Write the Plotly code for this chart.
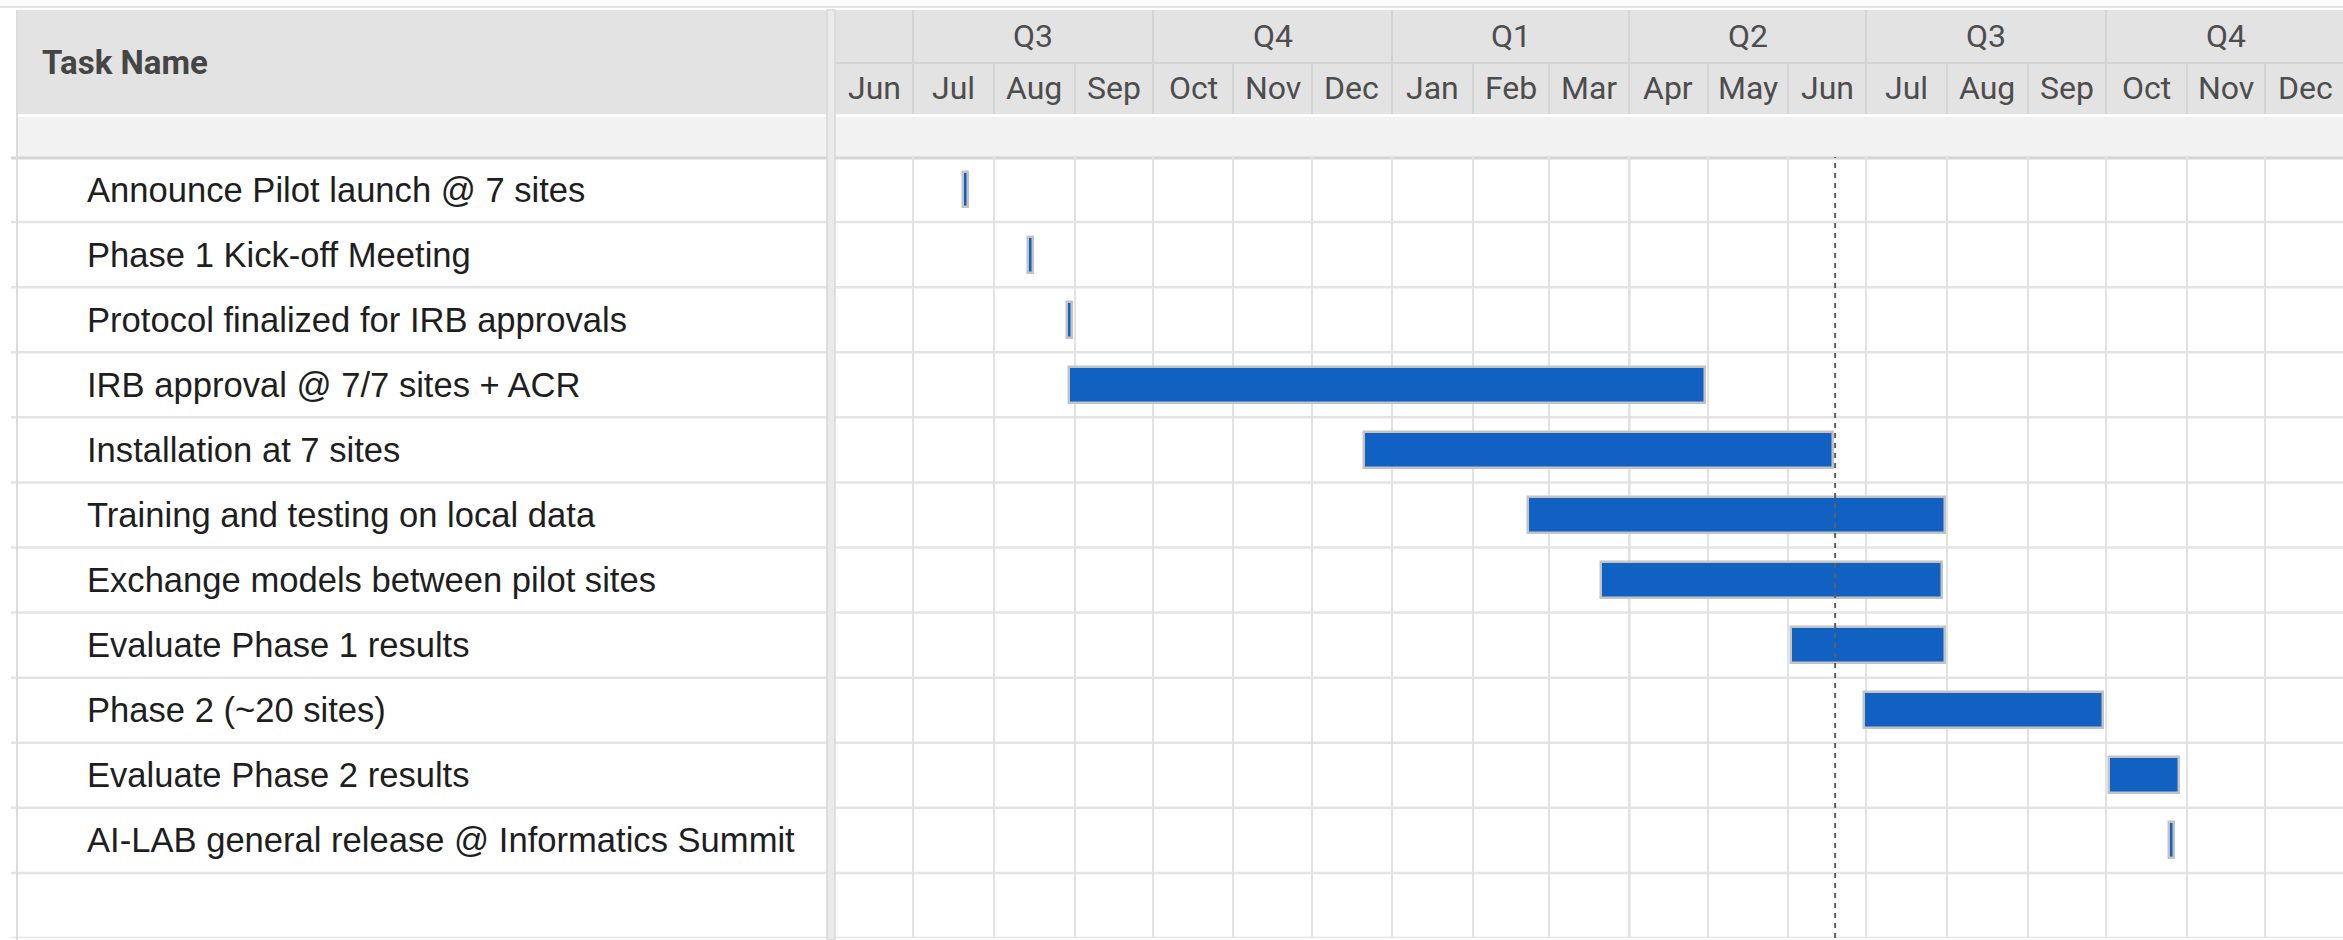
import pandas as pd
import plotly.graph_objects as go

# ---------------- data ----------------
tasks = [
    "Announce Pilot launch @ 7 sites",
    "Phase 1 Kick-off Meeting",
    "Protocol finalized for IRB approvals",
    "IRB approval @ 7/7 sites + ACR",
    "Installation at 7 sites",
    "Training and testing on local data",
    "Exchange models between pilot sites",
    "Evaluate Phase 1 results",
    "Phase 2 (~20 sites)",
    "Evaluate Phase 2 results",
    "AI-LAB general release @ Informatics Summit",
]
start_dates = ["2019-07-20", "2019-08-14", "2019-08-29", "2019-08-30", "2019-12-21",
               "2020-02-22", "2020-03-21", "2020-06-02", "2020-06-30", "2020-10-02",
               "2020-10-25"]
end_dates = ["2019-07-22", "2019-08-16", "2019-08-31", "2020-04-30", "2020-06-18",
             "2020-07-31", "2020-07-30", "2020-07-31", "2020-09-30", "2020-10-29",
             "2020-10-27"]
today = "2020-06-19"
view_start, view_end = "2019-06-01", "2020-12-31"
month_starts = pd.date_range("2019-06-01", "2020-12-01", freq="MS")
month_labels = [d.strftime("%b") for d in month_starts]
quarter_starts = pd.date_range("2019-07-01", "2020-10-01", freq="QS")
quarter_labels = ["Q%d" % d.quarter for d in quarter_starts]

# ---------------- layout helpers ----------------
W, H = 2343, 940
def px(x):
    return x / W
def py(y):
    return 1 - y / H

GANTT_X0 = 835
ROW_TOP, ROW_BOTTOM = 157, 938

durations = (pd.to_datetime(end_dates) - pd.to_datetime(start_dates)).total_seconds() * 1000

fig = go.Figure()
fig.add_trace(go.Bar(
    y=tasks, base=start_dates, x=list(durations), orientation="h",
    marker=dict(color="#1161c3", line=dict(color="#c3c3c3", width=2.5)),
    width=0.55, hoverinfo="skip", showlegend=False,
))
# dummy traces for header subplots
fig.add_trace(go.Scatter(x=[], y=[], xaxis="x2", yaxis="y2", showlegend=False))
fig.add_trace(go.Scatter(x=[], y=[], xaxis="x3", yaxis="y3", showlegend=False))

shapes = []
# top thin line
shapes.append(dict(type="line", xref="paper", yref="paper", x0=0, x1=1, y0=py(7), y1=py(7),
                   line=dict(color="#e4e4e4", width=2), layer="below"))
# header backgrounds
for xa, xb in [(17, 827), (GANTT_X0, W)]:
    shapes.append(dict(type="rect", xref="paper", yref="paper", x0=px(xa), x1=px(xb),
                       y0=py(114), y1=py(10), fillcolor="#e3e3e3", line=dict(width=0), layer="below"))
    shapes.append(dict(type="rect", xref="paper", yref="paper", x0=px(xa), x1=px(xb),
                       y0=py(157), y1=py(117), fillcolor="#f2f2f2", line=dict(width=0), layer="below"))
# header separator between quarter row and month row
shapes.append(dict(type="line", xref="paper", yref="paper", x0=px(GANTT_X0), x1=1, y0=py(63), y1=py(63),
                   line=dict(color="#d4d4d4", width=2), layer="below"))
# row separators
for i in range(len(tasks) + 1):
    shapes.append(dict(type="line", xref="paper", yref="y", x0=px(11), x1=1, y0=i + 0.5, y1=i + 0.5,
                       line=dict(color="#e4e4e4", width=2.5), layer="below"))
# strip bottom border
shapes.append(dict(type="line", xref="paper", yref="paper", x0=px(11), x1=1, y0=py(158), y1=py(158),
                   line=dict(color="#d6d6d6", width=3), layer="below"))
# left border
shapes.append(dict(type="line", xref="paper", yref="paper", x0=px(17), x1=px(17), y0=0, y1=py(10),
                   line=dict(color="#dcdcdc", width=2), layer="below"))
# splitter
shapes.append(dict(type="rect", xref="paper", yref="paper", x0=px(827), x1=px(835), y0=0, y1=py(10),
                   fillcolor="#eaeaea", line=dict(color="#d8d8d8", width=1.5), layer="below"))
# darker quarter line at Apr
shapes.append(dict(type="line", xref="x", yref="y domain", x0="2020-04-01", x1="2020-04-01", y0=0, y1=1,
                   line=dict(color="#cdcdcd", width=2), layer="below"))
# today line
shapes.append(dict(type="line", xref="x", yref="y domain", x0=today, x1=today, y0=0, y1=1,
                   line=dict(color="#5f5f5f", width=2, dash="5px,5px"), layer="above"))

annotations = []
annotations.append(dict(text="<b>Task Name</b>", xref="paper", yref="paper", x=px(40), y=py(63),
                        xanchor="left", yanchor="middle", showarrow=False,
                        font=dict(family="Roboto", size=33, color="#454545")))
for t in tasks:
    annotations.append(dict(text=t, xref="paper", yref="y", x=px(85), y=t,
                            xanchor="left", yanchor="middle", showarrow=False,
                            font=dict(family="Liberation Sans, Arial", size=34.6, color="#1e1e1e")))
for m, lab in zip(month_starts, month_labels):
    nxt = m + pd.offsets.MonthBegin(1)
    mid = m + (nxt - m) / 2
    annotations.append(dict(text=lab, xref="x2", yref="y2 domain", x=mid.strftime("%Y-%m-%d %H:%M"), y=0.5,
                            xanchor="center", yanchor="middle", showarrow=False,
                            font=dict(family="Roboto", size=32, color="#4d4d4d")))
for q, lab in zip(quarter_starts, quarter_labels):
    nxt = q + pd.offsets.QuarterBegin(1, startingMonth=1)
    mid = q + (nxt - q) / 2
    annotations.append(dict(text=lab, xref="x3", yref="y3 domain", x=mid.strftime("%Y-%m-%d %H:%M"), y=0.5,
                            xanchor="center", yanchor="middle", showarrow=False,
                            font=dict(family="Roboto", size=32, color="#4d4d4d")))

xdom = [px(GANTT_X0), 1]
common_x = dict(type="date", range=[view_start, view_end], domain=xdom, showticklabels=False,
                ticks="", showline=False, zeroline=False, fixedrange=True)

fig.update_layout(
    width=W, height=H,
    margin=dict(l=0, r=0, t=0, b=0),
    paper_bgcolor="white", plot_bgcolor="rgba(0,0,0,0)",
    bargap=0, showlegend=False,
    xaxis=dict(**common_x, anchor="y", showgrid=True, gridcolor="#e2e2e2", gridwidth=2,
               dtick="M1", tick0="2019-06-01"),
    yaxis=dict(type="category", categoryorder="array", categoryarray=tasks,
               range=[len(tasks) + 0.5, -0.5], domain=[py(ROW_BOTTOM), py(ROW_TOP)],
               showticklabels=False, showgrid=False, zeroline=False, anchor="x", fixedrange=True),
    xaxis2=dict(**common_x, anchor="y2", matches="x", showgrid=True, gridcolor="#d4d4d4", gridwidth=2,
                dtick="M1", tick0="2019-06-01"),
    yaxis2=dict(range=[0, 1], domain=[py(114), py(63)], showticklabels=False, showgrid=False,
                zeroline=False, anchor="x2", fixedrange=True),
    xaxis3=dict(**common_x, anchor="y3", matches="x", showgrid=True, gridcolor="#d4d4d4", gridwidth=2,
                dtick="M3", tick0="2019-07-01"),
    yaxis3=dict(range=[0, 1], domain=[py(63), py(10)], showticklabels=False, showgrid=False,
                zeroline=False, anchor="x3", fixedrange=True),
    shapes=shapes,
    annotations=annotations,
)

fig.write_html("out.html", config={"displayModeBar": False},
               post_script="document.body.style.margin='0';document.body.style.overflow='hidden';")
